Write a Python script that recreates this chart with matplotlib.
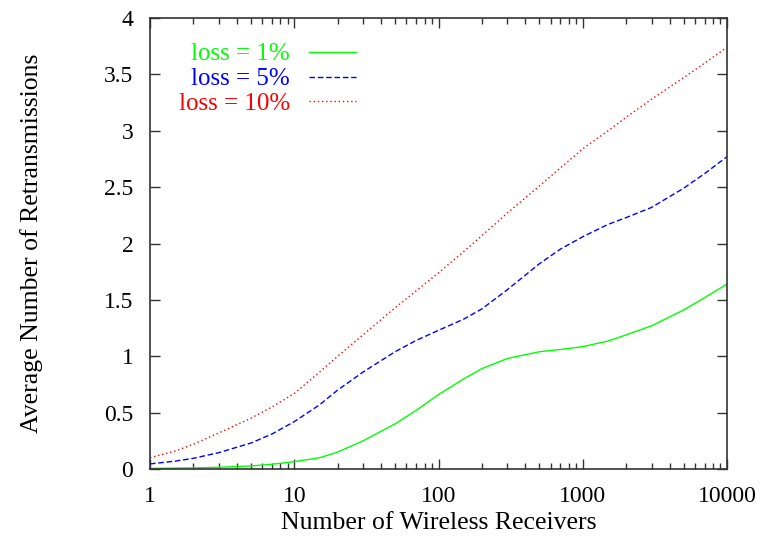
import matplotlib
matplotlib.use("Agg")
import matplotlib.pyplot as plt
from matplotlib.ticker import LogLocator, FixedLocator, NullFormatter, FixedFormatter

receivers = [1, 1.5, 2, 3, 5, 7, 10, 15, 20, 30, 50, 70, 100, 150, 200, 300, 500, 700,
             1000, 1500, 2000, 3000, 5000, 7000, 10000]
loss_1 = [0.005, 0.008, 0.01, 0.015, 0.027, 0.042, 0.065, 0.10, 0.15, 0.25, 0.40, 0.52, 0.66,
          0.80, 0.89, 0.98, 1.04, 1.06, 1.085, 1.135, 1.19, 1.27, 1.41, 1.52, 1.64]
loss_5 = [0.045, 0.07, 0.095, 0.145, 0.23, 0.31, 0.42, 0.57, 0.70, 0.86, 1.04, 1.14, 1.23,
          1.33, 1.42, 1.59, 1.82, 1.95, 2.06, 2.17, 2.23, 2.32, 2.49, 2.62, 2.77]
loss_10 = [0.10, 0.16, 0.22, 0.32, 0.45, 0.55, 0.67, 0.86, 1.0, 1.19, 1.43, 1.58, 1.74,
           1.93, 2.07, 2.27, 2.51, 2.67, 2.84, 3.0, 3.12, 3.28, 3.47, 3.60, 3.74]

series_labels = ["loss = 1%", "loss = 5%", "loss = 10%"]
x_ticks = [1, 10, 100, 1000, 10000]
x_tick_labels = ["1", "10", "100", "1000", "10000"]
y_ticks = [0, 0.5, 1, 1.5, 2, 2.5, 3, 3.5, 4]
y_tick_labels = ["0", "0.5", "1", "1.5", "2", "2.5", "3", "3.5", "4"]

plt.rcParams['font.family'] = ['Liberation Serif', 'DejaVu Serif']
plt.rcParams['font.size'] = 17

fig = plt.figure(figsize=(7.64, 5.38), dpi=100)
ax = fig.add_axes([150/764, 1 - 469/538, (727 - 150)/764, (469 - 18)/538])

ax.plot(receivers, loss_1, color='#00ff00', lw=1.0, linestyle='-', label=series_labels[0])
ax.plot(receivers, loss_5, color='#0000ff', lw=1.0, linestyle=(0, (4, 2)), label=series_labels[1])
ax.plot(receivers, loss_10, color='#ff0000', lw=1.0, linestyle=(0, (1, 2)), label=series_labels[2])

ax.set_xscale('log')
ax.set_xlim(1, 10000)
ax.set_ylim(0, 4)
ax.xaxis.set_major_locator(FixedLocator(x_ticks))
ax.xaxis.set_major_formatter(FixedFormatter(x_tick_labels))
ax.xaxis.set_minor_locator(LogLocator(base=10, subs=range(2, 10)))
ax.xaxis.set_minor_formatter(NullFormatter())
ax.yaxis.set_major_locator(FixedLocator(y_ticks))
ax.yaxis.set_major_formatter(FixedFormatter(y_tick_labels))

ax.tick_params(which='both', direction='in', top=True, right=True, color='#333333')
ax.tick_params(which='major', length=7, width=1, pad=12, labelsize=17)
ax.tick_params(which='minor', length=4, width=1)
for s in ax.spines.values():
    s.set_color('#333333')
    s.set_linewidth(1.2)

ax.set_xlabel('Number of Wireless Receivers', fontsize=18.5)
ax.set_ylabel('Average Number of Retransmissions', fontsize=18.5)
ax.xaxis.set_label_coords(0.5, -0.096)
ax.yaxis.set_label_coords(-0.185, 0.5)

leg = ax.legend(loc='upper right', bbox_to_anchor=((356 - 150)/577, (469 - 43)/451), frameon=False,
                markerfirst=False, handlelength=1.88, handletextpad=0.76, fontsize=18,
                labelspacing=0.09, labelcolor='linecolor', borderaxespad=0, borderpad=0)

fig.savefig('out.png', dpi=100)
